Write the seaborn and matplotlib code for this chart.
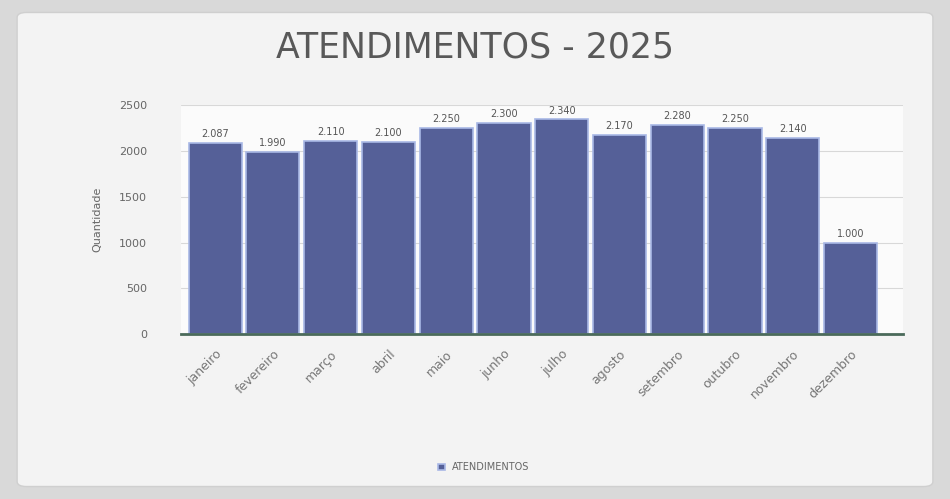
import matplotlib
matplotlib.use("Agg")
import matplotlib.pyplot as plt
import seaborn as sns
import pandas as pd
from matplotlib.patches import FancyBboxPatch

meses = ["janeiro", "fevereiro", "março", "abril", "maio", "junho",
         "julho", "agosto", "setembro", "outubro", "novembro", "dezembro"]
atendimentos = [2087, 1990, 2110, 2100, 2250, 2300, 2340, 2170, 2280, 2250, 2140, 1000]
yticks = [0, 500, 1000, 1500, 2000, 2500]

sns.set_theme(style="white")
plt.rcParams['font.family'] = ['DejaVu Sans']

df = pd.DataFrame({"mes": meses, "valor": atendimentos})

fig = plt.figure(figsize=(9.5, 4.99), dpi=100, facecolor="#d9d9d9")
card = FancyBboxPatch((0.018, 0.025), 0.964, 0.95, boxstyle="round,pad=0,rounding_size=0.01",
                      transform=fig.transFigure, facecolor="#f3f3f3", edgecolor="#cfcfcf",
                      linewidth=1, zorder=-10)
fig.add_artist(card)

ax = fig.add_axes([0.19, 0.33, 0.76, 0.46])
ax.set_zorder(1)
ax.set_facecolor("#fbfbfb")

sns.barplot(data=df, x="mes", y="valor", color="#4a58a3", width=0.92,
            edgecolor="#a9b8e6", linewidth=1.2, ax=ax, label="ATENDIMENTOS")

for i, v in enumerate(atendimentos):
    ax.text(i, v + 40, f"{v:,}".replace(",", "."), ha="center", va="bottom",
            fontsize=7, color="#555555")

ax.set_ylim(0, 2500)
ax.set_yticks(yticks)
ax.set_yticklabels([str(t) for t in yticks], fontsize=8, color="#666666")
ax.tick_params(axis="y", pad=18)
ax.yaxis.grid(True, color="#d8d8d8", linewidth=0.8)
ax.set_axisbelow(True)
ax.set_xlabel("")
ax.set_ylabel("Quantidade", fontsize=8, color="#666666", labelpad=12)
ax.set_xticks(range(len(meses)))
ax.set_xticklabels(meses, rotation=45, ha="right", rotation_mode="anchor",
                   fontsize=9, color="#777777")
for s in ["top", "right", "left"]:
    ax.spines[s].set_visible(False)
ax.spines["bottom"].set_color("#4a6a5a")
ax.spines["bottom"].set_linewidth(2)
ax.set_xlim(-0.6, len(meses) - 0.1)

fig.text(0.5, 0.905, "ATENDIMENTOS - 2025", ha="center", va="center",
         fontsize=25, color="#595959", zorder=2)
leg = ax.legend(loc="upper center", bbox_to_anchor=(0.42, -0.52), frameon=False,
                fontsize=7, handlelength=0.7, handleheight=0.7)
for t in leg.get_texts():
    t.set_color("#666666")

fig.savefig("out.png", dpi=100, facecolor=fig.get_facecolor())
